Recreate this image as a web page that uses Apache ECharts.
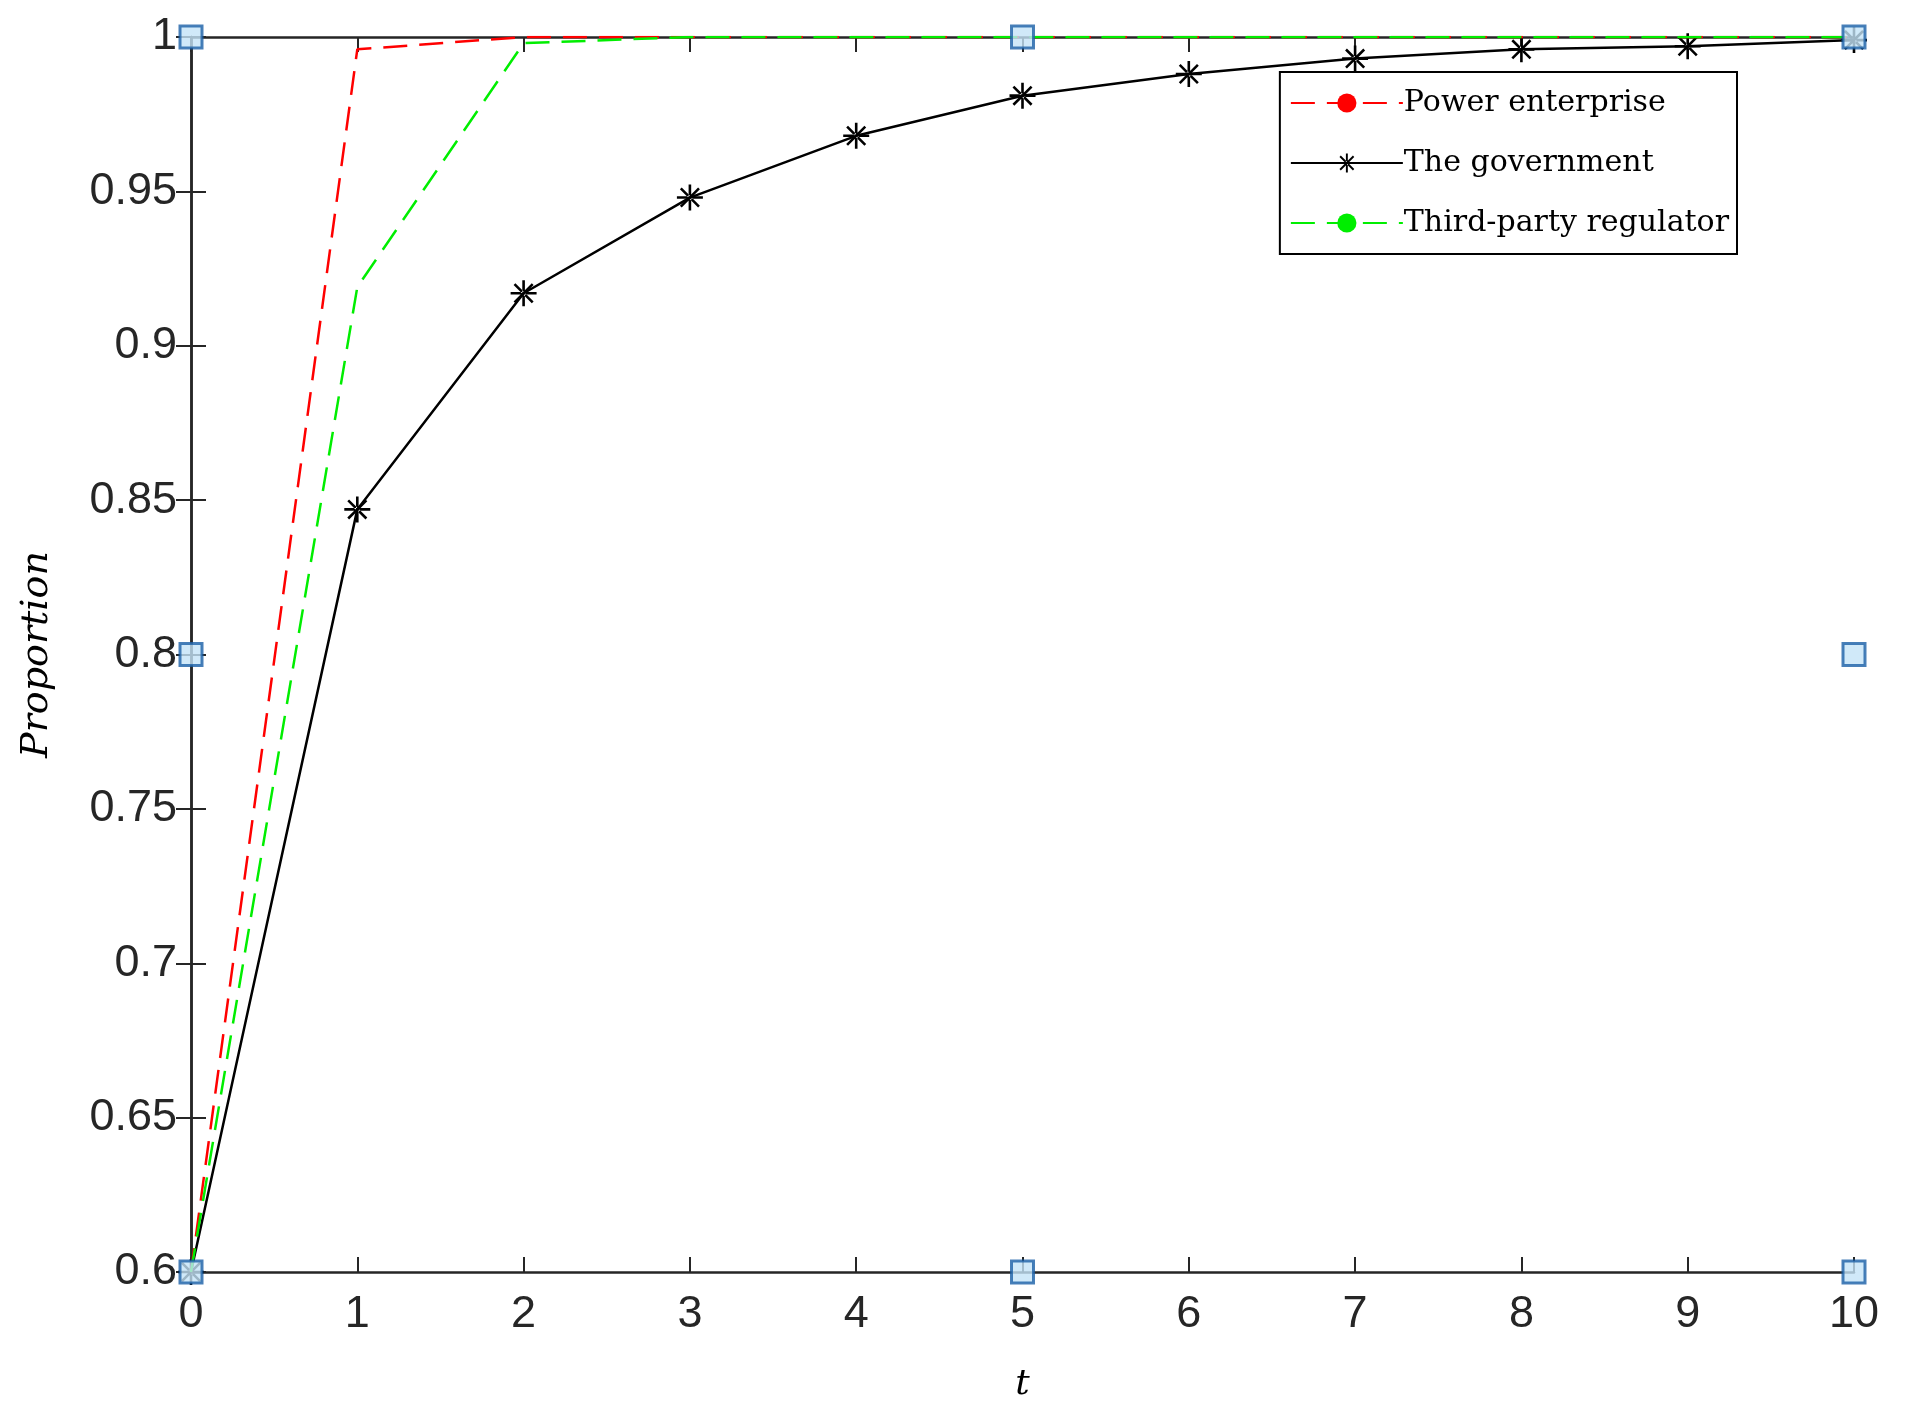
<!DOCTYPE html>
<html><head><meta charset="utf-8">
<script src="https://cdn.jsdelivr.net/npm/echarts@6/dist/echarts.min.js"></script>
<style>html,body{margin:0;padding:0;background:#fff}#c{width:1921px;height:1427px}</style>
</head><body><div id="c"></div>
<script>
const tValues = [0,1,2,3,4,5,6,7,8,9,10];
const powerEnterprise = [0.6,0.996,1.0,1.0,1.0,1.0,1.0,1.0,1.0,1.0,1.0];
const government = [0.6,0.847,0.917,0.948,0.968,0.981,0.988,0.993,0.996,0.997,0.999];
const thirdParty = [0.6,0.919,0.998,1.0,1.0,1.0,1.0,1.0,1.0,1.0,1.0];
const handlePoints = [[0,1],[5,1],[10,1],[0,0.8],[10,0.8],[0,0.6],[5,0.6],[10,0.6]];

const star = 'path://M-1,-10L1,-10L1,10L-1,10Z M-10,-1L10,-1L10,1L-10,1Z M-7.7,-6.3L6.3,7.7L7.7,6.3L-6.3,-7.7Z M6.3,-7.7L7.7,-6.3L-6.3,7.7L-7.7,6.3Z';
const pair = a => tValues.map((t,i)=>[t,a[i]]);
const axCol = '#262626';
const labelFont = {fontFamily:'Liberation Sans, Arial', fontSize:45, color:axCol};
const ch = echarts.init(document.getElementById('c'));
ch.setOption({
  animation:false,
  backgroundColor:'#fff',
  grid:{left:191,right:67,top:37,bottom:155},
  legend:{
    right:184, top:72, orient:'vertical', itemWidth:112, itemHeight:24, itemGap:30,
    backgroundColor:'#fff', borderColor:'#000', borderWidth:2, padding:[16,8,16,10],
    textStyle:{fontFamily:'DejaVu Serif, Liberation Serif', fontSize:30, color:'#000', padding:[0,0,0,-4]},
    data:['Power enterprise','The government','Third-party regulator']
  },
  xAxis:[
    {type:'value',min:0,max:10,interval:1,position:'bottom',
     axisLine:{lineStyle:{color:axCol,width:2.5}},axisTick:{inside:true,length:15,lineStyle:{width:2}},
     axisLabel:Object.assign({margin:20},labelFont),splitLine:{show:false},
     name:'t',nameLocation:'middle',nameGap:95,
     nameTextStyle:{fontFamily:'DejaVu Serif, Liberation Serif',fontStyle:'italic',fontSize:36,color:'#000'}},
    {type:'value',min:0,max:10,interval:1,position:'top',
     axisLine:{lineStyle:{color:axCol,width:2.5}},axisTick:{inside:true,length:15,lineStyle:{width:2}},
     axisLabel:{show:false},splitLine:{show:false}}
  ],
  yAxis:[
    {type:'value',min:0.6,max:1,interval:0.05,position:'left',
     axisLine:{lineStyle:{color:axCol,width:2.5}},axisTick:{inside:true,length:15,lineStyle:{width:2}},
     axisLabel:Object.assign({margin:14,formatter:v=>String(+v.toFixed(2))},labelFont),splitLine:{show:false},
     name:'Proportion',nameLocation:'middle',nameGap:135,
     nameTextStyle:{fontFamily:'DejaVu Serif, Liberation Serif',fontStyle:'italic',fontSize:38,color:'#000'}},
    {type:'value',min:0.6,max:1,interval:0.05,position:'right',
     axisLine:{lineStyle:{color:axCol,width:2.5}},axisTick:{inside:true,length:15,lineStyle:{width:2}},
     axisLabel:{show:false},splitLine:{show:false}}
  ],
  series:[
    {name:'Power enterprise',type:'line',data:pair(powerEnterprise),symbol:'none',
     color:'#ff0000',lineStyle:{color:'#ff0000',width:2.5,type:[24,12]},z:3},
    {name:'The government',type:'line',data:pair(government),symbol:star,symbolSize:26,showAllSymbol:true,
     color:'#000',itemStyle:{color:'#000'},lineStyle:{color:'#000',width:2.5},z:2},
    {name:'Third-party regulator',type:'line',data:pair(thirdParty),symbol:'none',
     color:'#00ee00',lineStyle:{color:'#00ee00',width:2.5,type:[24,12]},z:4},
    {type:'scatter',data:handlePoints,symbol:'rect',symbolSize:22,silent:true,
     itemStyle:{color:'#c4e3f8',borderColor:'#1a5fa6',borderWidth:3},z:10}
  ]
});
</script></body></html>
